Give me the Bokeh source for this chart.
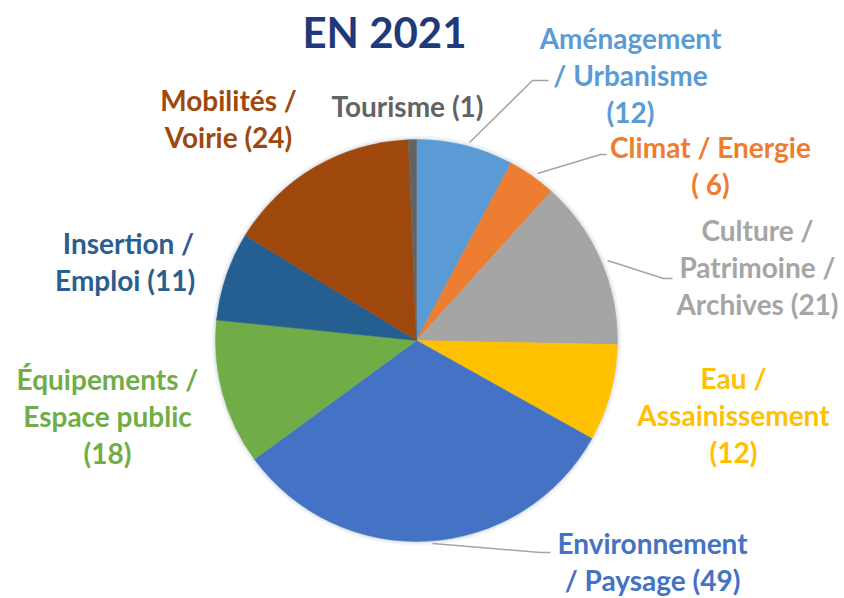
import math
from bokeh.plotting import figure
from bokeh.models import Range1d, ColumnDataSource
from bokeh.core.properties import value
from bokeh.embed import file_html
from bokeh.resources import INLINE

# ---- data ----
categories = ["Aménagement\n/ Urbanisme\n(12)", "Climat / Energie\n( 6)",
              "Culture /\nPatrimoine /\nArchives (21)", "Eau /\nAssainissement\n(12)",
              "Environnement\n/ Paysage (49)", "Équipements /\nEspace public\n(18)",
              "Insertion /\nEmploi  (11)", "Mobilités /\nVoirie (24)", "Tourisme (1)"]
values = [12, 6, 21, 12, 49, 18, 11, 24, 1]
title_text = "EN 2021"

# ---- styles / layout ----
colors = ["#5B9BD5", "#ED7D31", "#A5A5A5", "#FFC000", "#4472C4",
          "#70AD47", "#255E91", "#9E480E", "#636363"]
text_colors = ["#5B9BD5", "#ED7D31", "#A5A5A5", "#FFC000", "#4472C4",
               "#70AD47", "#2B5E8E", "#9E480E", "#636363"]
W, H = 844, 598
# label block centres in page pixels (x, y from top)
label_pos = [(630, 74), (710, 165), (757, 266), (733, 414), (652, 561),
             (107, 415), (128, 261), (228, 118), (407, 105)]
leaders = {0: [(469, 142), (532, 80), (548, 80)],
           1: [(537, 173), (600, 154), (606, 154)],
           2: [(607, 260), (663, 278), (672, 278)],
           4: [(432, 543), (540, 552), (550, 552)]}
center_px = (416, 340)
radius = 201
font = "Lato"
fsize = 28
line_h = 37.0

def X(px):
    return px

def Y(py):
    return H - py

p = figure(width=W, height=H, output_backend="svg", toolbar_location=None,
           x_range=Range1d(0, W), y_range=Range1d(0, H), min_border=0)
p.axis.visible = False
p.grid.visible = False
p.outline_line_color = None
p.background_fill_color = "white"

total = sum(values)
starts, ends = [], []
acc = 0
for v in values:
    starts.append(math.pi / 2 - 2 * math.pi * acc / total)
    acc += v
    ends.append(math.pi / 2 - 2 * math.pi * acc / total)

cx, cy = X(center_px[0]), Y(center_px[1])
# soft glow around the pie
for r, a in [(radius + 4, 0.10), (radius + 2, 0.18)]:
    p.scatter(x=[cx], y=[cy], size=2 * r, fill_color="#9aa6b8", fill_alpha=a, line_color=None)

src = ColumnDataSource(dict(start=starts, end=ends, color=colors))
p.wedge(x=cx, y=cy, radius=radius, start_angle="start", end_angle="end",
        direction="clock", fill_color="color", line_color="color", line_width=0.5, source=src)

# leader lines
for i, pts in leaders.items():
    p.line([X(a) for a, b in pts], [Y(b) for a, b in pts], line_color="#A5A5A5", line_width=1.5)

# labels
tx, ty, tt, tc = [], [], [], []
for i, lab in enumerate(categories):
    lines = lab.split("\n")
    n = len(lines)
    px, py = label_pos[i]
    for k, ln in enumerate(lines):
        tx.append(X(px))
        ty.append(Y(py + (k - (n - 1) / 2) * line_h))
        tt.append(ln)
        tc.append(text_colors[i])
p.text(x=tx, y=ty, text=tt, text_color=tc, text_font=value(font), text_font_style="bold",
       text_font_size=f"{fsize}px", text_align="center", text_baseline="middle")

p.text(x=[X(384)], y=[Y(31)], text=[title_text], text_color="#1F3A7A", text_font=value(font),
       text_font_style="bold", text_font_size="42px", text_align="center", text_baseline="middle")

open("out.html", "w").write(file_html(p, INLINE))
